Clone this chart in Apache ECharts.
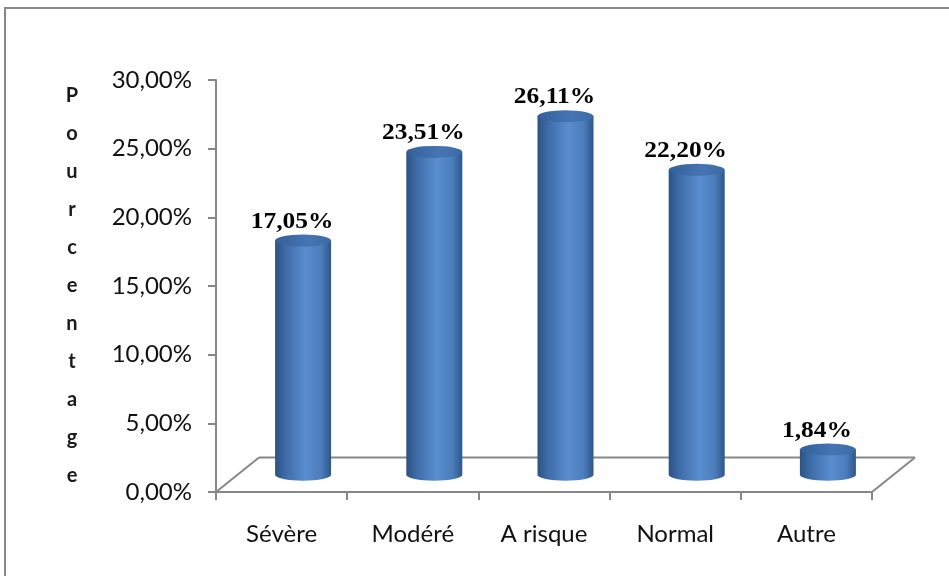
<!DOCTYPE html>
<html>
<head>
<meta charset="utf-8">
<script src="https://cdn.jsdelivr.net/npm/echarts@6/dist/echarts.min.js"></script>
<style>
  html, body { margin: 0; padding: 0; background: #fff; }
  #chart { width: 949px; height: 576px; }
</style>
</head>
<body>
<div id="chart"></div>
<script>
// Répartition par catégorie (en %)
const categories = ['Sévère', 'Modéré', 'A risque', 'Normal', 'Autre'];
const shares = [17.05, 23.51, 26.11, 22.20, 1.84];
const axisTitle = 'Pourcentage';
const yMin = 0, yMax = 30, yStep = 5;

// Perspective of the 3D floor: offset from front edge to back edge (px)
const DEPTH_X = 43;
const DEPTH_Y = 34.5;
const CYL_RX = 28;
const CYL_RY = 6;
const GRAY = '#878787';

const pct = v => v.toFixed(2).replace('.', ',') + '%';

const chart = echarts.init(document.getElementById('chart'), null, { renderer: 'canvas' });

function renderFloor(params) {
  const cs = params.coordSys;
  const x0 = cs.x, x1 = cs.x + cs.width, yb = cs.y + cs.height;
  const st = { stroke: GRAY, lineWidth: 2 };
  return {
    type: 'group',
    children: [
      { type: 'line', shape: { x1: x0 + DEPTH_X, y1: yb - DEPTH_Y, x2: x1 + DEPTH_X, y2: yb - DEPTH_Y }, style: st },
      { type: 'line', shape: { x1: x0, y1: yb, x2: x0 + DEPTH_X, y2: yb - DEPTH_Y }, style: st },
      { type: 'line', shape: { x1: x1, y1: yb, x2: x1 + DEPTH_X, y2: yb - DEPTH_Y }, style: st }
    ]
  };
}

function renderCylinder(params, api) {
  const i = api.value(0);
  const v = api.value(1);
  const top = api.coord([i, v]);
  const base = api.coord([i, 0]);
  const cx = top[0] + DEPTH_X / 2;
  const ty = top[1] - DEPTH_Y / 2;
  const by = base[1] - DEPTH_Y / 2;
  const l = cx - CYL_RX, r = cx + CYL_RX;
  const body = `M${l},${ty} L${l},${by} A${CYL_RX},${CYL_RY} 0 0 0 ${r},${by} L${r},${ty} Z`;
  const cap = `M${l},${ty} A${CYL_RX},${CYL_RY} 0 0 0 ${r},${ty} A${CYL_RX},${CYL_RY} 0 0 0 ${l},${ty} Z`;
  return {
    type: 'group',
    children: [
      {
        type: 'path',
        shape: { pathData: body },
        style: {
          fill: new echarts.graphic.LinearGradient(0, 0, 1, 0, [
            { offset: 0, color: '#2b5283' },
            { offset: 0.18, color: '#3d6ba7' },
            { offset: 0.55, color: '#5a8dcf' },
            { offset: 0.82, color: '#4c7dbd' },
            { offset: 1, color: '#2d5789' }
          ])
        }
      },
      {
        type: 'path',
        shape: { pathData: cap },
        style: {
          fill: new echarts.graphic.LinearGradient(0, 0, 1, 0, [
            { offset: 0, color: '#33609a' },
            { offset: 0.6, color: '#4675b3' },
            { offset: 1, color: '#3c6aa6' }
          ])
        }
      },
      {
        type: 'text',
        x: cx - 11,
        y: ty - CYL_RY - 1,
        scaleX: 1.06,
        style: {
          text: pct(v),
          font: 'bold 24px "Liberation Serif", "Times New Roman", serif',
          fill: '#000',
          align: 'center',
          verticalAlign: 'bottom',
          textAlign: 'center',
          textVerticalAlign: 'bottom'
        }
      }
    ]
  };
}

chart.setOption({
  animation: false,
  backgroundColor: '#fff',
  graphic: [
    {
      type: 'rect',
      shape: { x: 5, y: 8, width: 1000, height: 1000 },
      style: { fill: 'none', stroke: '#888', lineWidth: 2 },
      silent: true,
      z: -10
    }
  ],
  grid: { left: 216, right: 77, top: 80, bottom: 84 },
  xAxis: {
    type: 'category',
    data: categories,
    boundaryGap: true,
    axisLine: { show: true, lineStyle: { color: GRAY, width: 2 } },
    axisTick: { show: true, length: 8, lineStyle: { color: GRAY, width: 2 } },
    axisLabel: { margin: 30, color: '#111', fontFamily: 'Lato', fontSize: 24 },
    splitLine: { show: false }
  },
  yAxis: {
    type: 'value',
    min: yMin,
    max: yMax,
    interval: yStep,
    name: axisTitle.split('').join('\n'),
    nameLocation: 'middle',
    nameRotate: 0,
    nameGap: 144,
    nameTextStyle: {
      fontFamily: 'Lato',
      fontSize: 20,
      fontWeight: 'bold',
      color: '#1a1a1a',
      lineHeight: 38,
      align: 'center',
      verticalAlign: 'middle'
    },
    axisLine: { show: true, lineStyle: { color: GRAY, width: 2 } },
    axisTick: { show: true, length: 8, lineStyle: { color: GRAY, width: 2 } },
    axisLabel: { margin: 24, color: '#111', fontFamily: 'Lato', fontSize: 24, formatter: pct },
    splitLine: { show: false }
  },
  series: [
    {
      type: 'custom',
      name: 'floor',
      renderItem: renderFloor,
      data: [[0, 0]],
      silent: true,
      z: 1
    },
    {
      type: 'custom',
      name: 'Pourcentage',
      renderItem: renderCylinder,
      data: shares.map((v, i) => [i, v]),
      encode: { x: 0, y: 1 },
      z: 5
    }
  ]
});
</script>
</body>
</html>
